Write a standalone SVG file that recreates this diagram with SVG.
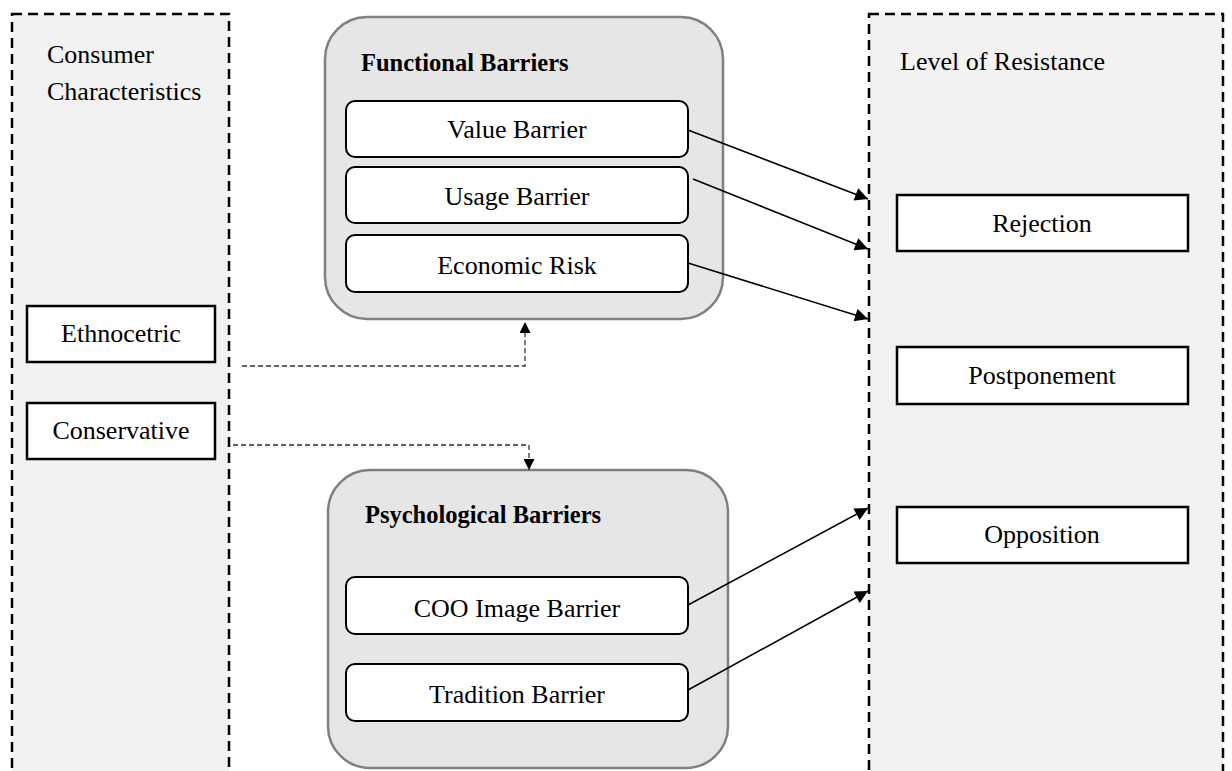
<svg xmlns="http://www.w3.org/2000/svg" width="1232" height="771" viewBox="0 0 1232 771">
<defs>
<marker id="ah" viewBox="0 0 10 10" refX="10" refY="5" markerWidth="16" markerHeight="13" markerUnits="userSpaceOnUse" orient="auto"><path d="M0,0 L10,5 L0,10 z" fill="#000"/></marker>
<marker id="ahd" viewBox="0 0 10 10" refX="10" refY="5" markerWidth="14" markerHeight="11" markerUnits="userSpaceOnUse" orient="auto"><path d="M0,0 L10,5 L0,10 z" fill="#000"/></marker>
</defs>
<style>
.panel{fill:#f2f2f2;stroke:#000;stroke-width:2.5;stroke-dasharray:10 6}
.group{fill:#e6e6e6;stroke:#808080;stroke-width:2.5}
.rbox{fill:#fff;stroke:#000;stroke-width:2}
.box{fill:#fff;stroke:#000;stroke-width:2.5}
.t{font-family:"Liberation Serif","Times New Roman",serif;font-size:26px;fill:#000}
.c{text-anchor:middle}
.b{font-family:"Liberation Serif","Times New Roman",serif;font-size:24.5px;font-weight:bold;fill:#000}
.arr{stroke:#000;stroke-width:1.5;fill:none;marker-end:url(#ah)}
.dash{stroke:#333;stroke-width:1.3;fill:none;stroke-dasharray:5 3;marker-end:url(#ahd)}
</style>
<rect width="1232" height="771" fill="#fff"/>
<g id="consumer-characteristics">
<rect class="panel" x="12" y="14" width="217" height="800"/>
<text class="t" x="47" y="63">Consumer</text>
<text class="t" x="47" y="100">Characteristics</text>
</g>
<g id="ethnocetric">
<rect class="box" x="27" y="306" width="188" height="56"/>
<text class="t c" x="121" y="342">Ethnocetric</text>
</g>
<g id="conservative">
<rect class="box" x="27" y="403" width="188" height="56"/>
<text class="t c" x="121" y="439">Conservative</text>
</g>
<g id="level-of-resistance">
<rect class="panel" x="869" y="14" width="354" height="800"/>
<text class="t" x="900" y="70">Level of Resistance</text>
</g>
<g id="rejection">
<rect class="box" x="897" y="195" width="291" height="56"/>
<text class="t c" x="1042" y="232">Rejection</text>
</g>
<g id="postponement">
<rect class="box" x="897" y="347" width="291" height="57"/>
<text class="t c" x="1042" y="384">Postponement</text>
</g>
<g id="opposition">
<rect class="box" x="897" y="507" width="291" height="56"/>
<text class="t c" x="1042" y="543">Opposition</text>
</g>
<g id="functional-barriers">
<rect class="group" x="325" y="17" width="398" height="302" rx="42"/>
<text class="b" x="361" y="71">Functional Barriers</text>
</g>
<g id="value-barrier">
<rect class="rbox" x="346" y="101" width="342" height="56" rx="9"/>
<text class="t c" x="517" y="138">Value Barrier</text>
</g>
<g id="usage-barrier">
<rect class="rbox" x="346" y="167" width="342" height="56" rx="9"/>
<text class="t c" x="517" y="205">Usage Barrier</text>
</g>
<g id="economic-risk">
<rect class="rbox" x="346" y="235" width="342" height="57" rx="9"/>
<text class="t c" x="517" y="274">Economic Risk</text>
</g>
<g id="psychological-barriers">
<rect class="group" x="328" y="470" width="400" height="298" rx="42"/>
<text class="b" x="365" y="523">Psychological Barriers</text>
</g>
<g id="coo-image-barrier">
<rect class="rbox" x="346" y="577" width="342" height="57" rx="9"/>
<text class="t c" x="517" y="617">COO Image Barrier</text>
</g>
<g id="tradition-barrier">
<rect class="rbox" x="346" y="664" width="342" height="57" rx="9"/>
<text class="t c" x="517" y="703">Tradition Barrier</text>
</g>
<g id="connectors">
<line class="arr" x1="688" y1="130" x2="868" y2="199"/>
<line class="arr" x1="693" y1="179" x2="868" y2="249"/>
<line class="arr" x1="688" y1="263" x2="868" y2="319"/>
<line class="arr" x1="688" y1="605" x2="868" y2="508"/>
<line class="arr" x1="688" y1="690" x2="868" y2="591"/>
<polyline class="dash" points="242,366 525,366 525,322"/>
<polyline class="dash" points="233,445 529,445 529,470"/>
</g>
</svg>
